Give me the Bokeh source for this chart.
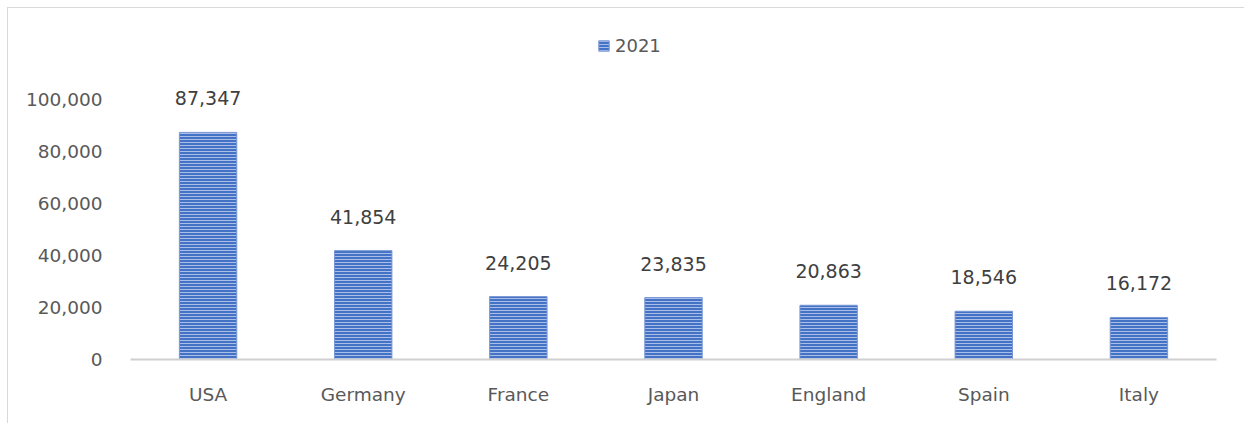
from bokeh.plotting import figure
from bokeh.models import ColumnDataSource, LabelSet, Legend, LegendItem, FixedTicker, NumeralTickFormatter, InlineStyleSheet
from bokeh.core.properties import value
from bokeh.embed import file_html
from bokeh.resources import INLINE

countries = ["USA", "Germany", "France", "Japan", "England", "Spain", "Italy"]
values_2021 = [87347, 41854, 24205, 23835, 20863, 18546, 16172]
value_labels = ["87,347", "41,854", "24,205", "23,835", "20,863", "18,546", "16,172"]
y_ticks = [0, 20000, 40000, 60000, 80000, 100000]
series_name = "2021"

source = ColumnDataSource(dict(x=countries, y=values_2021, lab=value_labels))

p = figure(x_range=countries, y_range=(0, 127308), width=1236, height=415,
           output_backend="svg", toolbar_location=None,
           min_border_left=122, min_border_right=28, min_border_top=20, min_border_bottom=64)
p.margin = (8, 0, 0, 8)
p.stylesheets = [InlineStyleSheet(css=":host { outline: 1px solid #d9d9d9; }")]
p.x_range.range_padding = 0
p.outline_line_color = None
p.xgrid.grid_line_color = None
p.ygrid.grid_line_color = None
p.background_fill_color = "white"
p.border_fill_color = "white"

r = p.vbar(x="x", top="y", width=0.37, source=source,
           fill_color="#4472c4", line_color="#7a98d4", line_width=1,
           hatch_pattern="horizontal_line", hatch_color="#a8bde8", hatch_scale=3, hatch_weight=1)

labels = LabelSet(x="x", y="y", text="lab", source=source, text_align="center",
                  text_baseline="alphabetic", y_offset=27, text_font=value("DejaVu Sans"),
                  text_font_size="19px", text_color="#404040")
p.add_layout(labels)

p.yaxis.ticker = FixedTicker(ticks=y_ticks)
p.yaxis.formatter = NumeralTickFormatter(format="0,0")
p.yaxis.axis_line_color = None
p.yaxis.major_tick_line_color = None
p.yaxis.minor_tick_line_color = None
p.yaxis.major_label_standoff = 22
p.yaxis.major_label_text_font = "DejaVu Sans"
p.yaxis.major_label_text_font_size = "18.5px"
p.yaxis.major_label_text_color = "#595959"

p.xaxis.axis_line_color = "#d0d0d0"
p.xaxis.axis_line_width = 2
p.xaxis.major_tick_line_color = None
p.xaxis.minor_tick_line_color = None
p.xaxis.major_label_standoff = 18
p.xaxis.major_label_text_font = "DejaVu Sans"
p.xaxis.major_label_text_font_size = "18.5px"
p.xaxis.major_label_text_color = "#595959"

legend = Legend(items=[LegendItem(label=series_name, renderers=[r])],
                location=(467, 303), orientation="horizontal",
                glyph_width=13, glyph_height=13, label_standoff=5,
                padding=0, margin=0, border_line_color=None, background_fill_alpha=0,
                label_text_font="DejaVu Sans", label_text_font_size="18px",
                label_text_color="#595959")
p.add_layout(legend)

open("out.html", "w").write(file_html(p, INLINE))
